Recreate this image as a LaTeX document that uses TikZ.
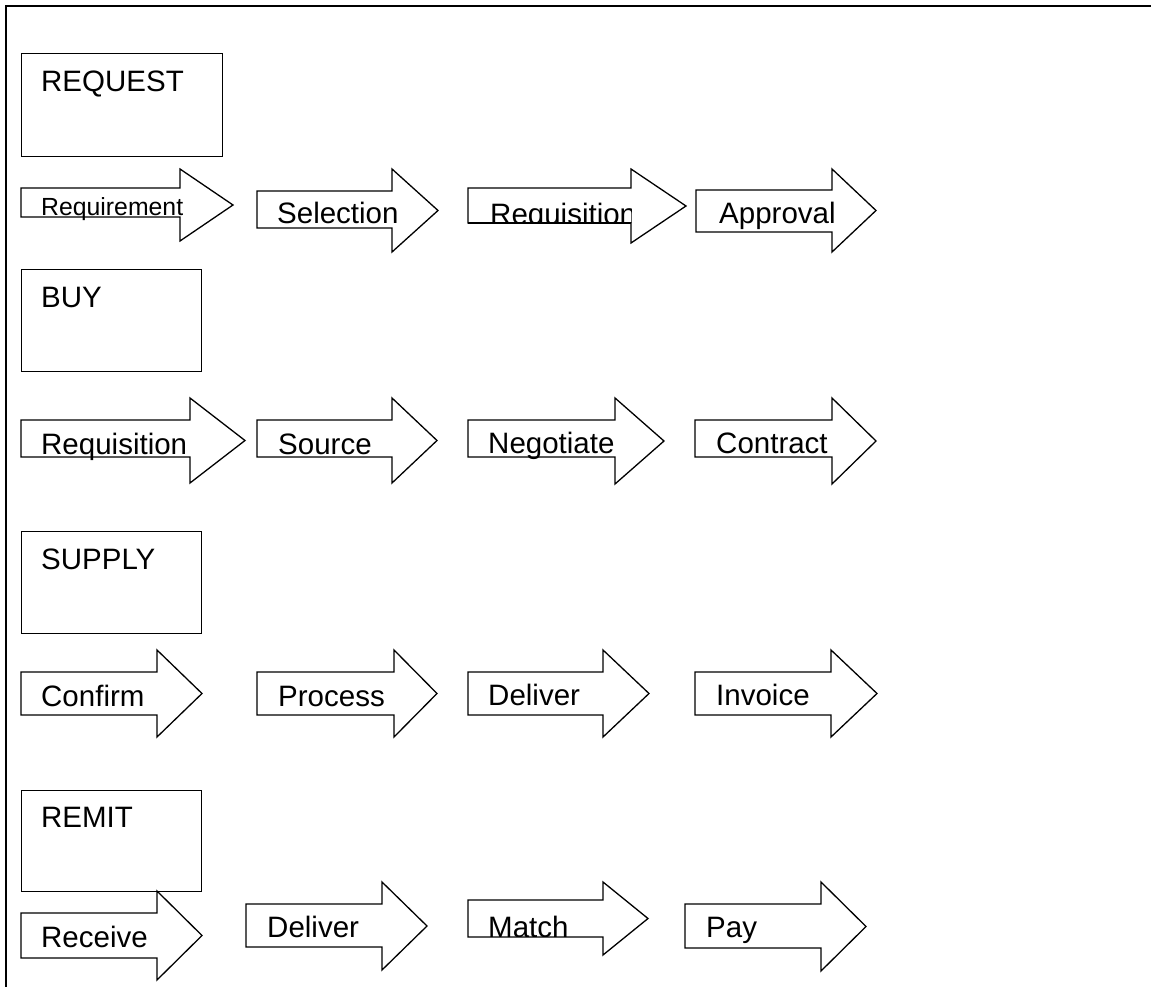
\documentclass[tikz,border=0pt]{standalone}
\usepackage{fontspec}
\setmainfont{Liberation Sans}

% Block arrow: left x, body top, body bottom, head x, head top, head bottom, tip x
\newcommand\blockarrow[7]{%
  \draw[shaft] (#1,#2) -- (#4,#2) -- (#4,#5) -- (#7,{(#5+#6)/2}) -- (#4,#6)
    -- (#4,#3) -- (#1,#3) -- cycle;}

\begin{document}
\begin{tikzpicture}[x=1pt,y=-1pt,
  stage/.style={draw=black, line width=1.3pt, fill=white, anchor=north west,
                inner sep=0pt, minimum width=#1, minimum height=102pt},
  shaft/.style={draw=black, line width=1.3pt, fill=white, line join=miter},
  phase/.style={anchor=base west, inner sep=0pt, font=\fontsize{29.5}{32}\selectfont},
  small phase/.style={anchor=base west, inner sep=0pt, font=\fontsize{24.8}{28}\selectfont}]
\useasboundingbox (0,0) rectangle (1151,987);

% open frame
\draw[line width=2.2pt] (1151,6) -- (6,6) -- (6,987);

% ---------- REQUEST ----------
\node[stage=201pt, minimum height=103pt] (request) at (21,53) {};
\node[phase] (requestlbl) at (41,92) {REQUEST};

\blockarrow{21}{188}{217}{180}{169}{241}{233}
\node[small phase] (requirement) at (41,216) {Requirement};
\blockarrow{257}{191}{228}{392}{169}{252}{438}
\node[phase] (selection) at (277,223) {Selection};
\blockarrow{468}{188}{223}{631}{169}{243}{686}
\begin{scope}
  \clip (468,188) rectangle (631,223);
  \node[phase] (requisitionA) at (490,225) {Requisition};
\end{scope}
\draw[shaft, fill=none] (468,223) -- (631,223);
\blockarrow{696}{190}{232}{832}{169}{252}{876}
\node[phase] (approval) at (719,224) {Approval};

% ---------- BUY ----------
\node[stage=180pt] (buy) at (21,269) {};
\node[phase] (buylbl) at (41,307) {BUY};

\blockarrow{21}{420}{457}{190}{398}{483}{245}
\node[phase] (requisitionB) at (41,454) {Requisition};
\blockarrow{257}{420}{457}{392}{398}{483}{437}
\node[phase] (source) at (278,454) {Source};
\blockarrow{468}{420}{457}{615}{398}{484}{664}
\node[phase] (negotiate) at (488,453) {Negotiate};
\blockarrow{695}{420}{457}{832}{398}{484}{876}
\node[phase] (contract) at (716,453) {Contract};

% ---------- SUPPLY ----------
\node[stage=180pt] (supply) at (21,531) {};
\node[phase] (supplylbl) at (41,569) {SUPPLY};

\blockarrow{21}{672}{715}{157}{650}{737}{202}
\node[phase] (confirm) at (41,706) {Confirm};
\blockarrow{257}{672}{715}{394}{650}{737}{437}
\node[phase] (process) at (278,706) {Process};
\blockarrow{468}{672}{715}{603}{650}{737}{649}
\node[phase] (deliverA) at (488,705) {Deliver};
\blockarrow{695}{672}{715}{831}{650}{737}{877}
\node[phase] (invoice) at (716,705) {Invoice};

% ---------- REMIT ----------
\node[stage=180pt, minimum height=101pt] (remit) at (21,790) {};
\node[phase] (remitlbl) at (41,827) {REMIT};

\blockarrow{21}{913}{958}{157}{891}{980}{202}
\node[phase] (receive) at (41,947) {Receive};
\blockarrow{246}{904}{947}{382}{882}{970}{427}
\node[phase] (deliverB) at (267,937) {Deliver};
\blockarrow{468}{900}{937}{603}{882}{955}{648}
\begin{scope}
  \clip (468,900) rectangle (603,936);
  \node[phase] (match) at (488,937) {Match};
\end{scope}
\blockarrow{685}{904}{948}{821}{882}{971}{866}
\node[phase] (pay) at (706,937) {Pay};
\end{tikzpicture}
\end{document}
